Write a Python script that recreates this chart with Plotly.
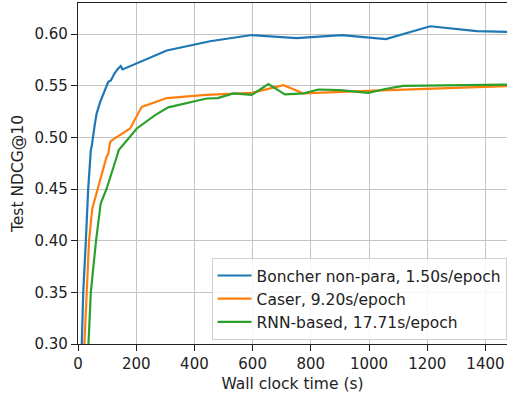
import plotly.graph_objects as go

# Boncher non-para
blue_t = [11, 13, 18, 27, 35, 44, 47, 58, 64, 76, 93, 104, 113, 125, 138, 147, 153, 265, 305, 454, 597, 751, 906, 1058, 1210, 1370, 1475]
blue_v = [0.28, 0.30, 0.35, 0.40, 0.45, 0.4876, 0.491, 0.513, 0.523, 0.534, 0.5457, 0.5537, 0.555, 0.5618, 0.5666, 0.569, 0.5657, 0.5795, 0.584, 0.593, 0.599, 0.596, 0.599, 0.595, 0.6075, 0.6027, 0.602]

# Caser
orange_t = [20, 22, 30, 38, 49, 68, 90, 98, 104, 110, 116, 179, 219, 305, 440, 597, 706, 775, 992, 1210, 1475]
orange_v = [0.28, 0.30, 0.35, 0.40, 0.431, 0.45, 0.474, 0.481, 0.484, 0.495, 0.497, 0.5086, 0.5295, 0.538, 0.541, 0.543, 0.5505, 0.5425, 0.545, 0.547, 0.5495]

# RNN-based
green_t = [34, 36, 44, 62, 78, 98, 133, 140, 202, 265, 310, 442, 480, 534, 597, 654, 711, 775, 826, 900, 997, 1060, 1117, 1475]
green_v = [0.28, 0.30, 0.35, 0.40, 0.436, 0.45, 0.481, 0.4876, 0.5086, 0.5215, 0.529, 0.5376, 0.538, 0.5425, 0.541, 0.5515, 0.5415, 0.5425, 0.5463, 0.5456, 0.543, 0.547, 0.5498, 0.551]

names = ["Boncher non-para, 1.50s/epoch", "Caser, 9.20s/epoch", "RNN-based, 17.71s/epoch"]
colors = ["#1f77b4", "#ff7f0e", "#2ca02c"]
x_ticks = [0, 200, 400, 600, 800, 1000, 1200, 1400]
y_ticks = [0.30, 0.35, 0.40, 0.45, 0.50, 0.55, 0.60]

FONT = "DejaVu Sans"
fig = go.Figure()
for i, (t, v) in enumerate([(blue_t, blue_v), (orange_t, orange_v), (green_t, green_v)]):
    fig.add_trace(go.Scatter(x=t, y=v, mode="lines", name=names[i],
                             legendgroup=f"g{i}",
                             line=dict(color=colors[i], width=2.2)))

axis_common = dict(showgrid=True, gridcolor="#c4c4c4", gridwidth=1,
                   showline=True, linecolor="#222222", linewidth=1.4,
                   ticks="outside", ticklen=6, tickwidth=1.2, tickcolor="#222222",
                   tickfont=dict(family=FONT, size=15, color="#222222"),
                   zeroline=False)

fig.update_layout(
    width=507, height=393,
    margin=dict(l=78, r=0, t=3, b=49),
    paper_bgcolor="white", plot_bgcolor="white",
    font=dict(family=FONT, size=15, color="#222222"),
    xaxis=dict(range=[0, 1474], tickvals=x_ticks, mirror=True,
               title=dict(text="Wall clock time (s)", font=dict(family=FONT, size=15.5), standoff=7),
               **axis_common),
    yaxis=dict(range=[0.30, 0.63], tickvals=y_ticks, tickformat=".2f",
               title=dict(text="Test NDCG@10", font=dict(family=FONT, size=15.5), standoff=6),
               **axis_common),
    legend=dict(x=0.999, y=0.012, xanchor="right", yanchor="bottom",
                bgcolor="rgba(255,255,255,0.85)", bordercolor="#d0d0d0", borderwidth=1,
                font=dict(family=FONT, size=15.5, color="#222222"),
                tracegroupgap=0, itemwidth=34),
    showlegend=True,
)

fig.write_html("out.html")
